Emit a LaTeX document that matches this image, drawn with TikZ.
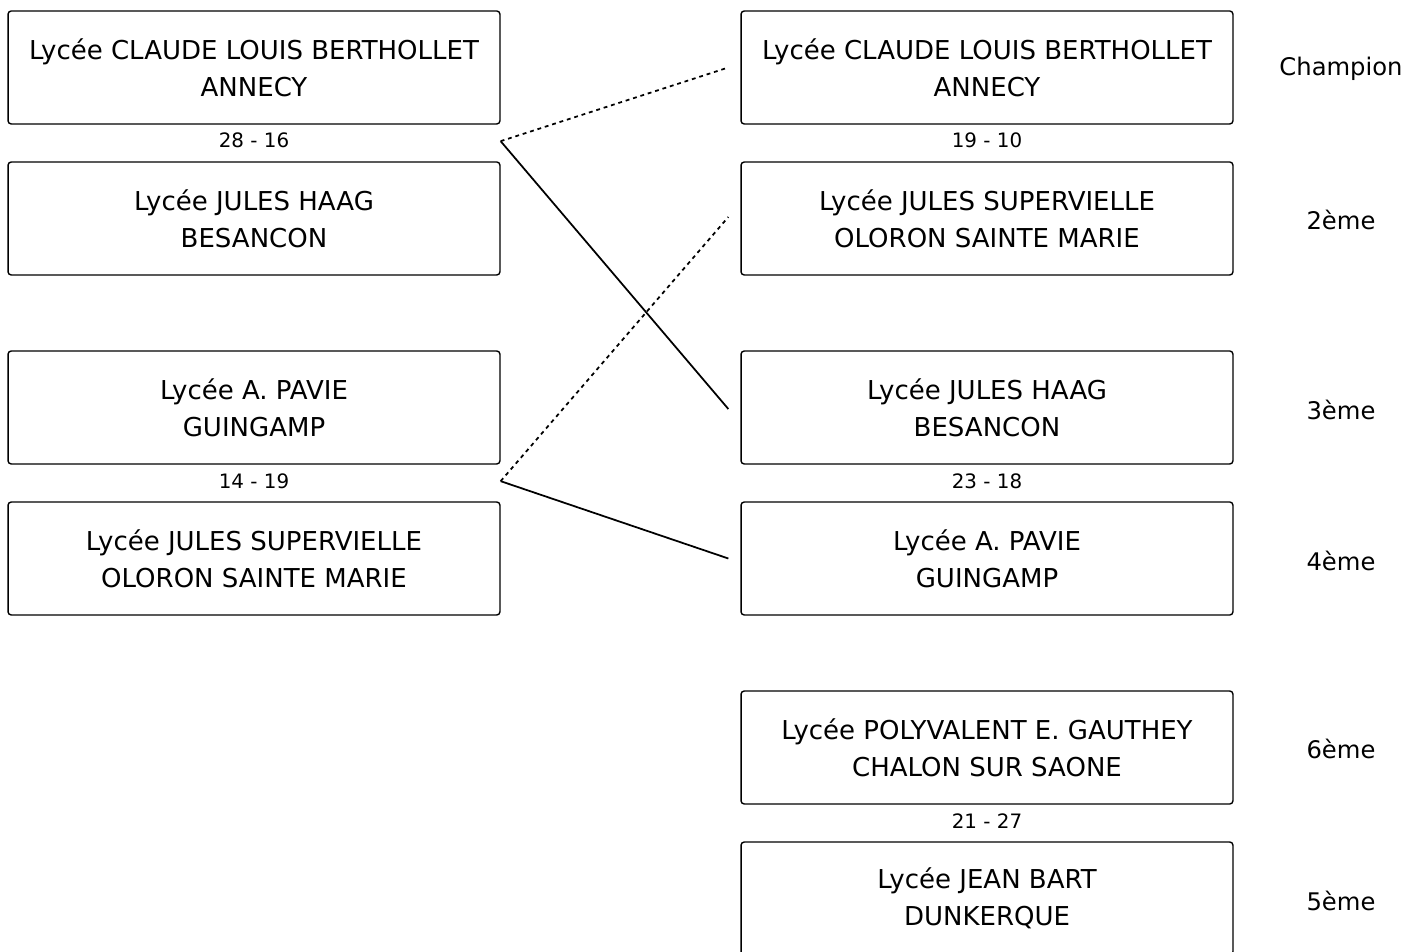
\documentclass[tikz,border=0pt]{standalone}
\usepackage{fontspec}
\setmainfont{DejaVu Sans}
\usetikzlibrary{calc}

\tikzset{
    team/.style={draw, line width=0.8pt, rounded corners=1.8pt,
        minimum width=9.84cm, minimum height=2.26cm, align=center,
        font=\fontsize{14.8}{21}\selectfont},
    score/.style={font=\fontsize{11.3}{13}\selectfont, inner sep=0pt},
    rank/.style={font=\fontsize{13.8}{16}\selectfont, inner sep=0pt},
    link/.style={line width=1pt},
    oldlink/.style={line width=1pt, dash pattern=on 2.2pt off 2.2pt},
}

\begin{document}
\begin{tikzpicture}[x=0.02cm, y=-0.02cm]
    \useasboundingbox (0, 0) rectangle (1403, 952);
    \clip (0, 0) rectangle (1403, 952);

    % First round
    \node[team] (l1) at (254, 67.5) {Lycée CLAUDE LOUIS BERTHOLLET\\ANNECY};
    \node[team] (l2) at (254, 218.5) {Lycée JULES HAAG\\BESANCON};
    \node[team] (l3) at (254, 407.5) {Lycée A. PAVIE\\GUINGAMP};
    \node[team] (l4) at (254, 558.5) {Lycée JULES SUPERVIELLE\\OLORON SAINTE MARIE};
    \node[score] (s1) at (254, 140) {28 - 16};
    \node[score] (s2) at (254, 481) {14 - 19};

    % Finals
    \node[team] (r1) at (987, 67.5) {Lycée CLAUDE LOUIS BERTHOLLET\\ANNECY};
    \node[team] (r2) at (987, 218.5) {Lycée JULES SUPERVIELLE\\OLORON SAINTE MARIE};
    \node[team] (r3) at (987, 407.5) {Lycée JULES HAAG\\BESANCON};
    \node[team] (r4) at (987, 558.5) {Lycée A. PAVIE\\GUINGAMP};
    \node[team] (r5) at (987, 747.5) {Lycée POLYVALENT E. GAUTHEY\\CHALON SUR SAONE};
    \node[team] (r6) at (987, 898.5) {Lycée JEAN BART\\DUNKERQUE};
    \node[score] (s3) at (987, 140) {19 - 10};
    \node[score] (s4) at (987, 481) {23 - 18};
    \node[score] (s5) at (987, 821) {21 - 27};

    % Ranking
    \node[rank] (k1) at (1341, 69) {Champion};
    \node[rank] (k2) at (1341, 220) {2ème};
    \node[rank] (k3) at (1341, 410) {3ème};
    \node[rank] (k4) at (1341, 561) {4ème};
    \node[rank] (k5) at (1341, 749) {6ème};
    \node[rank] (k6) at (1341, 901) {5ème};

    % Connectors
    \coordinate (m1) at ($(l1.south east)!0.45!(l2.north east)$);
    \coordinate (m2) at ($(l3.south east)!0.45!(l4.north east)$);
    \coordinate (e1) at ([xshift=-0.24cm]r1.west);
    \coordinate (e2) at ([xshift=-0.24cm, yshift=0.03cm]r2.west);
    \coordinate (e3) at ([xshift=-0.24cm, yshift=-0.03cm]r3.west);
    \coordinate (e4) at ([xshift=-0.24cm]r4.west);
    \draw[oldlink] (m1) -- (e1);
    \draw[link] (m1) -- (e3);
    \draw[oldlink] (m2) -- (e2);
    \draw[link] (m2) -- (e4);
\end{tikzpicture}
\end{document}
